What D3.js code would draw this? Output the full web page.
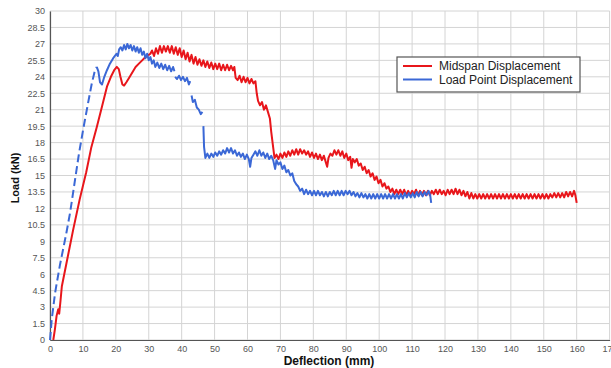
<!DOCTYPE html>
<html>
<head>
<meta charset="utf-8">
<script src="https://cdn.jsdelivr.net/npm/d3@7"></script>
<style>
  body { margin: 0; background: #fff; }
  svg text { font-family: "Liberation Sans", Arial, sans-serif; }
</style>
</head>
<body>
<svg id="grafico"></svg>
<script>
// ticks
let xTicks = d3.range(0, 171, 10);
let yTicks = [0, 1.5, 3, 4.5, 6, 7.5, 9, 10.5, 12, 13.5, 15, 16.5, 18, 19.5, 21, 22.5, 24, 25.5, 27, 28.5, 30];

// Midspan displacement [deflection mm, load kN]
let midspan = [
  [1,0],[1.5,1],[2,2.2],[2.5,2.8],[2.8,2.4],[3.2,3.6],[3.6,4.9],[5,7],[7,10],[9,12.8],[11,15.3],
  [12.5,17.5],[14.2,19.4],[15.8,21.3],[17.3,23.1],[18.5,24],[19.5,24.6],[20.3,24.9],[20.9,24.7],
  [21.4,24],[22,23.3],[22.5,23.2],[23.2,23.5],[24,23.9],[25,24.4],[26,24.9],[27,25.2],[28,25.5],
  [29,25.8],[30,26],[30.5,26.1],
  [31,26.4],[31.6,25.9],[32.2,26.6],[32.8,26.1],[33.4,26.8],[34,26.2],[34.6,26.8],[35.2,26.3],
  [35.8,26.8],[36.4,26.2],[37,26.8],[37.6,26.1],[38.2,26.7],[38.8,26.0],[39.4,26.6],[40,25.8],
  [40.6,26.4],[41.2,25.6],[41.8,26.2],[42.4,25.4],[43,26.0],[43.6,25.2],[44.2,25.8],[44.8,25.1],
  [45.4,25.6],[46,25.0],[46.6,25.5],[47.2,24.9],[47.8,25.4],[48.4,24.8],[49,25.3],[49.6,24.7],
  [50.2,25.2],[50.8,24.7],[51.4,25.2],[52,24.6],[52.6,25.1],[53.2,24.6],[53.8,25.1],[54.4,24.6],
  [55,25.0],[55.6,24.6],[56,24.9],[56.4,23.9],[57,23.7],[57.6,24.1],[58.2,23.5],[58.8,24.0],
  [59.4,23.5],[60,23.9],[60.6,23.4],[61.2,23.8],[61.8,23.4],[62.4,23.6],[62.8,22.5],[63.2,21.8],
  [63.8,21.4],[64.4,21.7],[65,21.0],[65.6,21.4],[66.2,20.8],[66.8,20.2],[67.2,19.0],[67.7,17.8],
  [68.2,16.6],[68.8,16.9],[69.4,16.5],[70,17.0],[70.6,16.6],[71.2,17.1],[71.8,16.7],[72.4,17.2],
  [73,16.8],[73.6,17.3],[74.2,16.9],[74.8,17.4],[75.4,16.9],[76,17.4],[76.6,17.0],[77.2,17.3],
  [77.8,16.9],[78.4,17.2],[79,16.7],[79.6,17.1],[80.2,16.6],[80.8,17.0],[81.4,16.5],[82,16.9],
  [82.6,16.4],[83.2,16.8],[83.8,16.2],[84.2,15.8],[84.6,16.6],[85.2,17.0],[85.8,16.8],[86.4,17.3],
  [87,16.9],[87.6,17.3],[88.2,16.8],[88.8,17.2],[89.4,16.6],[90,17.0],[90.6,16.4],[91.2,16.7],
  [91.6,15.7],[92,16.5],[92.6,16.2],[93.2,16.5],[93.8,15.9],[94.4,16.1],[95,15.5],[95.6,15.8],
  [96.2,15.2],[96.8,15.5],[97.4,14.9],[98,15.2],[98.6,14.6],[99.2,14.9],[99.8,14.3],[100.4,14.6],
  [101,14.0],[101.6,14.3],[102.2,13.8],[102.8,14.0],[103.4,13.5],[104,13.8],[104.6,13.3],[105.2,13.7],
  [105.8,13.3],[106.4,13.7],[107,13.3],[107.6,13.7],[108.2,13.2],[108.8,13.6],[109.4,13.2],[110,13.6],
  [110.6,13.3],[111.2,13.7],[111.8,13.2],[112.4,13.6],[113,13.2],[113.6,13.6],[114.2,13.2],[114.8,13.6],
  [115.4,13.2],[116,13.6],[116.6,13.3],[117.2,13.7],[117.8,13.3],[118.4,13.7],[119,13.3],[119.6,13.6],
  [120.2,13.2],[120.8,13.7],[121.4,13.3],[122,13.7],[122.6,13.3],[123.2,13.8],[123.8,13.3],[124.4,13.7],
  [125,13.2],[125.6,13.6],[126.2,13.1],[126.8,13.5],[127.4,12.9],[128,13.4],[128.6,12.9],[129.2,13.3],
  [129.8,12.9],[130.4,13.3],[131,12.9],[131.6,13.3],[132.2,12.9],[132.8,13.3],[133.4,12.9],[134,13.3],
  [134.6,12.9],[135.2,13.3],[135.8,12.9],[136.4,13.3],[137,12.9],[137.6,13.3],[138.2,12.9],[138.8,13.3],
  [139.4,12.9],[140,13.3],[140.6,12.9],[141.2,13.3],[141.8,12.9],[142.4,13.3],[143,12.9],[143.6,13.3],
  [144.2,12.9],[144.8,13.3],[145.4,12.9],[146,13.3],[146.6,12.9],[147.2,13.3],[147.8,12.9],[148.4,13.3],
  [149,12.9],[149.6,13.3],[150.2,12.9],[150.8,13.3],[151.4,12.9],[152,13.3],[152.6,13.0],[153.2,13.4],
  [153.8,13.0],[154.4,13.4],[155,13.0],[155.6,13.4],[156.2,13.0],[156.8,13.5],[157.4,13.1],[158,13.5],
  [158.6,13.1],[159.2,13.6],[159.6,13.2],[160,12.5]
];

// Load point displacement: rising part (drawn dashed) and the rest
let loadPointRise = [
  [0,0],[0.3,1],[0.5,1.8],[1,3],[1.5,4.2],[2,5.1],[3,6.8],[4,8.3],[5,9.8],[6.1,11.6],[7.6,14.6],
  [8.8,17],[10.2,19.4],[11.5,21.5],[12.7,23.4],[13.5,24.4],[14.2,24.9]
];
let loadPoint = [
  [14.2,24.9],[14.7,24.5],[15.2,23.5],[15.8,23.3],[16.5,24.0],[17.3,24.6],[18.2,25.2],[19.2,25.7],
  [20.2,26.1],[20.6,25.9],[21.0,26.5],[21.5,26.7],[22,26.4],[22.5,26.9],[23,26.5],[23.5,27.0],
  [24,26.6],[24.5,26.9],[25,26.4],[25.5,26.8],[26,26.3],[26.5,26.7],[27,26.2],[27.5,26.6],
  [28,26.0],[28.5,26.3],[29,25.7],[29.5,26.1],[30,25.5],[30.5,25.8],[31,25.2],[31.5,25.5],
  [32,24.9],[32.6,25.3],[33.2,24.8],[33.8,25.2],[34.4,24.7],[35,25.1],[35.6,24.6],[36.2,25.0],
  [36.8,24.5],[37.4,24.9],[37.8,24.5],null,[38,24.0],[38.6,23.8],[39.2,24.1],[39.8,23.7],
  [40.4,24.0],[41,23.6],[41.6,23.9],[42.2,23.3],[42.6,23.6],null,[43,22.3],[43.4,21.7],[44,21.9],
  [44.6,21.2],[45.2,21.0],[45.8,20.6],[46.3,20.8],null,[46.6,19.5],[46.8,17.6],[47.2,16.6],
  [47.8,17.0],[48.4,16.6],[49,17.0],[49.6,16.7],[50.2,17.1],[50.8,16.8],[51.4,17.2],[52,16.9],
  [52.6,17.3],[53.2,17.0],[53.8,17.5],[54.4,17.1],[55,17.5],[55.6,17.0],[56.2,17.3],[56.8,16.8],
  [57.4,17.1],[58,16.7],[58.6,17.0],[59.2,16.5],[59.8,16.9],[60.4,16.5],[60.8,15.8],[61.2,16.6],
  [61.8,16.9],[62.4,17.2],[63,16.8],[63.6,17.3],[64.2,16.8],[64.8,17.1],[65.4,16.6],[66,17.0],
  [66.6,16.5],[67.2,16.8],[67.8,16.4],[68.4,15.6],[68.8,16.4],[69.4,16.0],[70,16.2],[70.6,15.6],
  [71.2,15.9],[71.8,15.3],[72.4,15.5],[73,15.0],[73.6,15.2],[74.2,14.5],[74.8,14.2],[75.4,14.0],
  [76,13.6],[76.6,13.8],[77.2,13.3],[77.8,13.7],[78.4,13.3],[79,13.6],[79.6,13.2],[80.2,13.6],
  [80.8,13.2],[81.4,13.6],[82,13.2],[82.6,13.5],[83.2,13.1],[83.8,13.5],[84.4,13.1],[85,13.5],
  [85.6,13.2],[86.2,13.6],[86.8,13.2],[87.4,13.6],[88,13.2],[88.6,13.6],[89.2,13.2],[89.8,13.6],
  [90.4,13.3],[91,13.6],[91.6,13.2],[92.2,13.5],[92.8,13.1],[93.4,13.4],[94,13.0],[94.6,13.4],
  [95.2,13.0],[95.8,13.3],[96.4,12.9],[97,13.3],[97.6,12.9],[98.2,13.3],[98.8,12.9],[99.4,13.3],
  [100,12.9],[100.6,13.3],[101.2,12.9],[101.8,13.3],[102.4,12.9],[103,13.3],[103.6,12.9],[104.2,13.3],
  [104.8,12.9],[105.4,13.3],[106,12.9],[106.6,13.3],[107.2,12.9],[107.8,13.4],[108.4,13.0],[109,13.4],
  [109.6,13.0],[110.2,13.4],[110.8,13.0],[111.4,13.5],[112,13.1],[112.6,13.5],[113.2,13.1],[113.8,13.5],
  [114.4,13.2],[115,13.6],[115.5,13.2],[115.8,12.5]
];

let series = ["Midspan Displacement", "Load Point Displacement"];
let cores = ["#e8161b", "#3b68d6"];

let largura = 611, altura = 368;
let margem = { esq: 50, dir: 611 - 609.6, topo: 11, base: 368 - 340 };

let svg = d3.select("#grafico")
  .attr("width", largura)
  .attr("height", altura);

let fnX = d3.scaleLinear().domain([0, 170]).range([margem.esq, largura - margem.dir]);
let fnY = d3.scaleLinear().domain([0, 30]).range([altura - margem.base, margem.topo]);

// grid
svg.append("g")
  .selectAll("line.vx")
  .data(xTicks)
  .enter()
  .append("line")
  .attr("x1", d => fnX(d)).attr("x2", d => fnX(d))
  .attr("y1", fnY(0)).attr("y2", fnY(30))
  .attr("stroke", "#d4d4d4").attr("stroke-width", 1);

svg.append("g")
  .selectAll("line.hy")
  .data(yTicks)
  .enter()
  .append("line")
  .attr("x1", fnX(0)).attr("x2", fnX(170))
  .attr("y1", d => fnY(d)).attr("y2", d => fnY(d))
  .attr("stroke", "#d4d4d4").attr("stroke-width", 1);

// axes
let eixoX = svg.append("g")
  .attr("transform", `translate(0, ${fnY(0)})`)
  .call(d3.axisBottom(fnX).tickValues(xTicks).tickSize(0).tickPadding(6));
let eixoY = svg.append("g")
  .attr("transform", `translate(${fnX(0)}, 0)`)
  .call(d3.axisLeft(fnY).tickValues(yTicks).tickSize(0).tickPadding(5).tickFormat(d => d));

[eixoX, eixoY].forEach(e => {
  e.select(".domain").attr("stroke", "#555").attr("stroke-width", 1.2);
  e.selectAll("text")
    .attr("fill", "#555")
    .style("font-size", "9px")
    .style("font-family", "'Liberation Sans', Arial, sans-serif");
});

// lines
let linha = d3.line()
  .defined(d => d != null)
  .x(d => fnX(d[0]))
  .y(d => fnY(d[1]));

svg.append("path")
  .datum(midspan)
  .attr("d", linha)
  .attr("fill", "none")
  .attr("stroke", cores[0])
  .attr("stroke-width", 2)
  .attr("stroke-linejoin", "round");

svg.append("path")
  .datum(loadPointRise)
  .attr("d", linha)
  .attr("fill", "none")
  .attr("stroke", cores[1])
  .attr("stroke-width", 2)
  .attr("stroke-dasharray", "8,4");

svg.append("path")
  .datum(loadPoint)
  .attr("d", linha)
  .attr("fill", "none")
  .attr("stroke", cores[1])
  .attr("stroke-width", 2)
  .attr("stroke-linejoin", "round");

// axis titles
svg.append("text")
  .text("Deflection (mm)")
  .attr("x", 329)
  .attr("y", 365)
  .attr("text-anchor", "middle")
  .style("font-size", "12px")
  .style("font-weight", "bold")
  .attr("fill", "#111");

svg.append("text")
  .text("Load (kN)")
  .attr("transform", "translate(19, 178) rotate(-90)")
  .attr("text-anchor", "middle")
  .style("font-size", "11px")
  .style("font-weight", "bold")
  .attr("fill", "#111");

// legend
let legenda = svg.append("g").attr("transform", "translate(397, 57)");
legenda.append("rect")
  .attr("width", 183).attr("height", 35)
  .attr("fill", "#fff")
  .attr("stroke", "#555").attr("stroke-width", 1.2);

let itens = legenda.selectAll(".item")
  .data(series)
  .enter()
  .append("g")
  .attr("transform", (d, i) => `translate(0, ${9 + i * 13.5})`);
itens.append("line")
  .attr("x1", 6).attr("x2", 35)
  .attr("stroke", (d, i) => cores[i])
  .attr("stroke-width", 2);
itens.append("text")
  .text(d => d)
  .attr("x", 42)
  .attr("y", 4)
  .style("font-size", "12px")
  .attr("fill", "#222");
</script>
</body>
</html>
